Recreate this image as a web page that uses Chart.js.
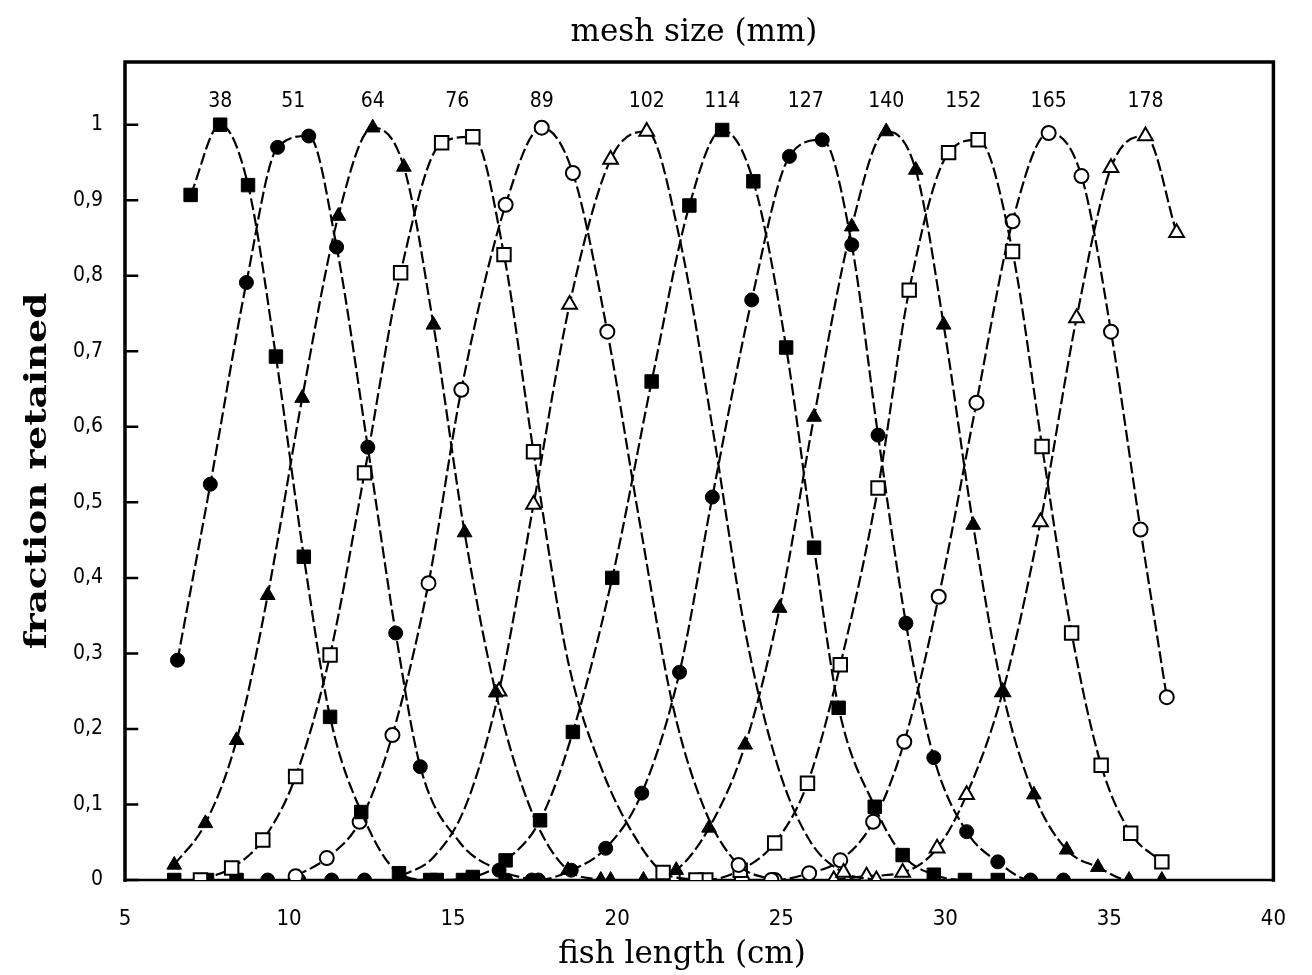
<!DOCTYPE html>
<html>
<head>
<meta charset="utf-8">
<script src="https://cdn.jsdelivr.net/npm/chart.js@4.4.1/dist/chart.umd.min.js"></script>
<style>
  html, body { margin: 0; padding: 0; background: #fff; }
  canvas { display: block; }
</style>
</head>
<body>
<canvas id="chart" width="1312" height="975"></canvas>
<script>
// mesh sizes (mm), one selectivity curve each
const meshSizes = [38, 51, 64, 76, 89, 102, 114, 127, 140, 152, 165, 178];

// fish length (cm) and fraction retained
const len38 = [7.0, 7.9, 8.75, 9.6, 10.45, 11.25, 12.2, 13.35, 14.3, 15.3];
const ret38 = [0.907, 1.0, 0.92, 0.693, 0.428, 0.216, 0.09, 0.009, 0, 0];
const len51 = [6.6, 7.6, 8.7, 9.65, 10.6, 11.45, 12.4, 13.25, 14.0, 15.2, 16.4, 17.4];
const ret51 = [0.291, 0.524, 0.791, 0.97, 0.985, 0.838, 0.573, 0.327, 0.15, 0.05, 0.013, 0];
const len64 = [6.5, 7.45, 8.4, 9.35, 10.4, 11.5, 12.55, 13.5, 14.4, 15.35, 16.3, 17.4, 18.5, 19.5];
const ret64 = [0.02, 0.075, 0.185, 0.377, 0.638, 0.879, 0.996, 0.944, 0.735, 0.46, 0.248, 0.09, 0.013, 0];
const len76 = [7.3, 8.25, 9.2, 10.2, 11.25, 12.3, 13.4, 14.65, 15.6, 16.55, 17.45, 18.5, 19.5, 20.5, 21.4, 22.4];
const ret76 = [0, 0.016, 0.053, 0.137, 0.298, 0.539, 0.804, 0.976, 0.984, 0.828, 0.567, 0.29, 0.15, 0.06, 0.01, 0];
const len89 = [10.2, 11.15, 12.15, 13.15, 14.25, 15.25, 16.6, 17.7, 18.65, 19.7, 20.7, 21.7, 22.7, 23.7, 24.7];
const ret89 = [0.005, 0.029, 0.077, 0.192, 0.393, 0.649, 0.894, 0.996, 0.936, 0.726, 0.47, 0.23, 0.09, 0.02, 0];
const len102 = [13.4, 14.4, 15.4, 16.4, 17.45, 18.55, 19.8, 20.9, 21.9, 22.9, 23.9, 24.9, 25.9, 26.9, 27.9];
const ret102 = [0.005, 0.03, 0.1, 0.25, 0.497, 0.762, 0.954, 0.991, 0.85, 0.6, 0.33, 0.15, 0.05, 0.01, 0];
const len114 = [6.5, 7.5, 8.4, 14.5, 15.6, 16.6, 17.65, 18.65, 19.85, 21.05, 22.2, 23.2, 24.15, 25.15, 26.0, 26.75, 27.85, 28.7, 29.65, 30.6, 31.6];
const ret114 = [0, 0, 0, 0, 0.004, 0.026, 0.079, 0.196, 0.4, 0.66, 0.893, 0.993, 0.925, 0.705, 0.44, 0.228, 0.097, 0.033, 0.007, 0, 0];
const len127 = [9.35, 10.3, 11.3, 12.3, 16.6, 17.6, 18.6, 19.65, 20.75, 21.9, 22.9, 24.1, 25.25, 26.25, 27.15, 27.95, 28.8, 29.65, 30.65, 31.6, 32.6, 33.6];
const ret127 = [0, 0, 0, 0, 0, 0, 0.013, 0.042, 0.115, 0.275, 0.507, 0.768, 0.958, 0.98, 0.841, 0.589, 0.34, 0.162, 0.064, 0.024, 0, 0];
const len140 = [19.8, 20.8, 21.8, 22.8, 23.9, 24.95, 26.0, 27.15, 28.2, 29.1, 29.95, 30.85, 31.75, 32.7, 33.7, 34.65, 35.6, 36.6];
const ret140 = [0, 0, 0.013, 0.069, 0.179, 0.36, 0.613, 0.865, 0.991, 0.94, 0.735, 0.47, 0.249, 0.113, 0.04, 0.017, 0, 0];
const len152 = [21.7, 22.7, 23.75, 24.8, 25.8, 26.8, 27.95, 28.9, 30.1, 31.0, 32.05, 32.95, 33.85, 34.75, 35.65, 36.6];
const ret152 = [0, 0, 0.013, 0.049, 0.128, 0.285, 0.519, 0.781, 0.963, 0.98, 0.832, 0.574, 0.327, 0.152, 0.062, 0.024];
const len165 = [23.8, 24.8, 25.85, 26.8, 27.8, 28.75, 29.8, 30.95, 32.05, 33.15, 34.15, 35.05, 35.95, 36.75];
const ret165 = [0, 0, 0.009, 0.026, 0.077, 0.183, 0.375, 0.632, 0.872, 0.989, 0.932, 0.726, 0.464, 0.242];
const len178 = [26.6, 27.6, 28.7, 29.75, 30.65, 31.75, 32.9, 34.0, 35.05, 36.1, 37.05];
const ret178 = [0, 0.005, 0.01, 0.042, 0.113, 0.249, 0.474, 0.744, 0.943, 0.985, 0.857];

const lengths = [len38, len51, len64, len76, len89, len102, len114, len127, len140, len152, len165, len178];
const retained = [ret38, ret51, ret64, ret76, ret89, ret102, ret114, ret127, ret140, ret152, ret165, ret178];

// stretches of curve that carry no symbol in the original
const unmarked = [[], [9], [11], [11, 12, 13], [10, 11, 12], [1, 2, 8, 9, 10, 11, 12], [], [], [], [], [], []];

const xTicks = [5, 10, 15, 20, 25, 30, 35, 40];

const shapes = ['rect', 'circle', 'triangle'];
const radii = { rect: 9.5, circle: 7, triangle: 8.5 };

const datasets = meshSizes.map((mesh, i) => {
  const shape = shapes[i % 3];
  const open = (i % 6) >= 3; // filled set first, then open set
  return {
    label: mesh + ' mm',
    data: lengths[i].map((x, k) => ({ x: x, y: retained[i][k] })),
    borderColor: '#000',
    borderWidth: 2.2,
    borderDash: [12, 4],
    cubicInterpolationMode: 'monotone',
    pointStyle: shape,
    pointRadius: lengths[i].map((_, k) => unmarked[i].includes(k) ? 0 : radii[shape]),
    pointHoverRadius: 0,
    pointBackgroundColor: open ? '#fff' : '#000',
    pointBorderColor: '#000',
    pointBorderWidth: open ? 2 : 1
  };
});

const serif = '"DejaVu Serif", "Liberation Serif", serif';
const narrow = '"DejaVu Sans Condensed", "Liberation Sans Narrow", sans-serif';

// box, inward ticks, mesh labels and the axis titles
const paperDecor = {
  id: 'paperDecor',
  beforeDatasetsDraw(chart) {
    const { ctx, chartArea: a, scales } = chart;
    ctx.save();
    ctx.strokeStyle = '#000';
    ctx.lineCap = 'square';
    ctx.lineWidth = 2.5;
    ctx.beginPath();
    ctx.moveTo(a.left, a.bottom);
    ctx.lineTo(a.right, a.bottom);
    ctx.stroke();
    ctx.lineWidth = 3.5;
    ctx.beginPath();
    ctx.moveTo(a.left, a.bottom);
    ctx.lineTo(a.left, a.top);
    ctx.lineTo(a.right, a.top);
    ctx.lineTo(a.right, a.bottom);
    ctx.stroke();
    ctx.lineWidth = 2.5;
    ctx.beginPath();
    scales.y.ticks.forEach(t => {
      const py = scales.y.getPixelForValue(t.value);
      ctx.moveTo(a.left, py);
      ctx.lineTo(a.left + 12, py);
    });
    ctx.stroke();
    ctx.restore();
  },
  afterDraw(chart) {
    const { ctx, chartArea: a, scales } = chart;
    ctx.save();
    ctx.fillStyle = '#000';
    ctx.textAlign = 'center';
    ctx.textBaseline = 'middle';

    // mesh size above each curve's top
    ctx.font = '21px ' + narrow;
    meshSizes.forEach((mesh, i) => {
      const top = Math.max(...retained[i]);
      const xs = lengths[i].filter((x, k) => retained[i][k] >= top - 0.03);
      const cx = xs.reduce((s, v) => s + v, 0) / xs.length;
      ctx.fillText(String(mesh), scales.x.getPixelForValue(cx), a.top + 40);
    });

    ctx.font = '31px ' + serif;
    ctx.fillText('mesh size (mm)', a.left + 569, 33);
    ctx.fillText('fish length (cm)', a.left + 557, 955);

    ctx.translate(38, 471);
    ctx.rotate(-Math.PI / 2);
    ctx.scale(1.25, 1);
    ctx.font = 'bold 30px ' + serif;
    ctx.fillText('fraction retained', 0, 0);
    ctx.restore();
  }
};

new Chart(document.getElementById('chart'), {
  type: 'line',
  data: { datasets: datasets },
  options: {
    responsive: false,
    animation: false,
    events: [],
    layout: { padding: { top: 62, right: 19, left: 0, bottom: 0 } },
    plugins: {
      legend: { display: false },
      tooltip: { enabled: false }
    },
    scales: {
      x: {
        type: 'linear',
        min: 5,
        max: 40,
        afterFit: s => { s.height = 95; },
        afterBuildTicks: s => { s.ticks = xTicks.map(v => ({ value: v })); },
        grid: { display: false, drawTicks: false },
        border: { display: false },
        ticks: {
          padding: 26,
          color: '#000',
          font: { family: narrow, size: 22 },
          maxRotation: 0
        }
      },
      y: {
        min: 0,
        max: 1.083,
        afterFit: s => { s.width = 125; },
        afterBuildTicks: s => { s.ticks = s.ticks.filter(t => t.value <= 1.0001); },
        grid: { display: false, drawTicks: false },
        border: { display: false },
        ticks: {
          stepSize: 0.1,
          padding: 22,
          color: '#000',
          font: { family: narrow, size: 21 },
          callback: v => v === 0 ? '0' : (Math.abs(v - 1) < 1e-6 ? '1' : v.toFixed(1).replace('.', ','))
        }
      }
    }
  },
  plugins: [paperDecor]
});
</script>
</body>
</html>
